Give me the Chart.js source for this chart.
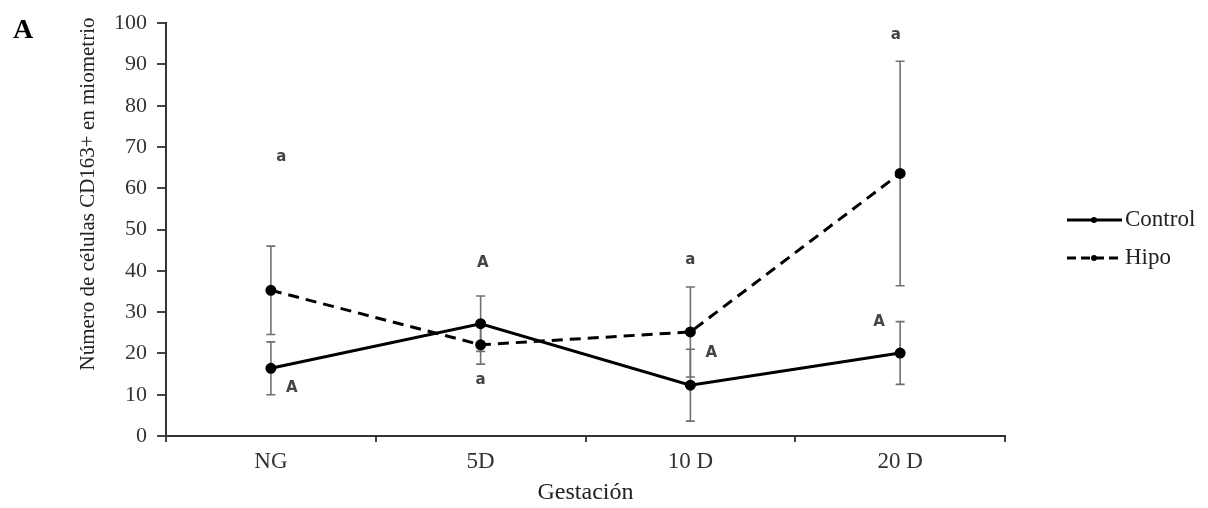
<!DOCTYPE html>
<html>
<head>
<meta charset="utf-8">
<script src="https://cdn.jsdelivr.net/npm/chart.js@4.4.1/dist/chart.umd.min.js"></script>
<style>
  html, body { margin: 0; padding: 0; background: #fff; }
</style>
</head>
<body>
<canvas id="chart" width="1208" height="508"></canvas>
<script>
// Datos
const categories = ['NG', '5D', '10 D', '20 D'];
const controlValues = [16.4, 27.2, 12.3, 20.1];
const controlErrors = [6.4, 6.7, 8.7, 7.6];
const hipoValues = [35.3, 22.1, 25.2, 63.6];
const hipoErrors = [10.7, 4.7, 10.9, 27.2];
const controlLetters = ['A', 'A', 'A', 'A'];
const hipoLetters = ['a', 'a', 'a', 'a'];
const yTicks = [0, 10, 20, 30, 40, 50, 60, 70, 80, 90, 100];

// ubicación de las letras (índice de categoría + desplazamiento, valor y)
const controlLetterPos = [[0.1, 11.6], [0.01, 41.8], [0.1, 20.0], [-0.1, 27.5]];
const hipoLetterPos = [[0.05, 67.5], [0, 13.5], [0, 42.6], [-0.02, 97.1]];

const serif = "'Liberation Serif', 'DejaVu Serif', serif";
const sans = "'DejaVu Sans', Verdana, sans-serif";

const extras = {
  id: 'extras',
  beforeDatasetsDraw(chart) {
    const { ctx, scales: { x, y } } = chart;
    ctx.save();
    ctx.strokeStyle = '#707070';
    ctx.lineWidth = 1.6;
    const bars = (vals, errs) => {
      vals.forEach((v, i) => {
        const px = x.getPixelForValue(i);
        const top = y.getPixelForValue(v + errs[i]);
        const bot = y.getPixelForValue(v - errs[i]);
        ctx.beginPath();
        ctx.moveTo(px, top); ctx.lineTo(px, bot);
        ctx.moveTo(px - 4.5, top); ctx.lineTo(px + 4.5, top);
        ctx.moveTo(px - 4.5, bot); ctx.lineTo(px + 4.5, bot);
        ctx.stroke();
      });
    };
    bars(controlValues, controlErrors);
    bars(hipoValues, hipoErrors);
    ctx.restore();
  },
  afterDraw(chart) {
    const { ctx, scales: { x, y } } = chart;
    const step = x.getPixelForValue(1) - x.getPixelForValue(0);
    ctx.save();
    // letras de significancia
    ctx.fillStyle = '#444';
    ctx.font = 'bold 15px ' + sans;
    ctx.textAlign = 'center';
    ctx.textBaseline = 'middle';
    const letters = (labels, pos) => {
      labels.forEach((t, i) => {
        ctx.fillText(t, x.getPixelForValue(i) + pos[i][0] * step, y.getPixelForValue(pos[i][1]));
      });
    };
    letters(controlLetters, controlLetterPos);
    letters(hipoLetters, hipoLetterPos);

    // título eje y
    ctx.fillStyle = '#222';
    ctx.font = '21px ' + serif;
    ctx.save();
    ctx.translate(88, 194);
    ctx.rotate(-Math.PI / 2);
    ctx.fillText('Número de células CD163+ en miometrio', 0, 0);
    ctx.restore();

    // letra del panel
    ctx.fillStyle = '#000';
    ctx.font = 'bold 28px ' + serif;
    ctx.fillText('A', 23, 31);

    // leyenda
    ctx.textAlign = 'left';
    ctx.font = '23px ' + serif;
    chart.data.datasets.forEach((ds, i) => {
      const ly = 220 + i * 38;
      ctx.strokeStyle = '#000';
      ctx.lineWidth = 3;
      ctx.setLineDash(ds.borderDash ? [9, 5] : []);
      ctx.beginPath();
      ctx.moveTo(1067, ly); ctx.lineTo(1122, ly);
      ctx.stroke();
      ctx.setLineDash([]);
      ctx.fillStyle = '#000';
      ctx.beginPath();
      ctx.arc(1094, ly, 3, 0, Math.PI * 2);
      ctx.fill();
      ctx.fillStyle = '#222';
      ctx.fillText(ds.label, 1125, ly);
    });
    ctx.restore();
  }
};

new Chart(document.getElementById('chart'), {
  type: 'line',
  data: {
    labels: categories,
    datasets: [
      { label: 'Control', data: controlValues, borderColor: '#000', backgroundColor: '#000',
        borderWidth: 3, pointRadius: 4, pointBackgroundColor: '#000', tension: 0 },
      { label: 'Hipo', data: hipoValues, borderColor: '#000', backgroundColor: '#000',
        borderWidth: 3, borderDash: [11, 7], pointRadius: 4, pointBackgroundColor: '#000', tension: 0 }
    ]
  },
  options: {
    responsive: false,
    animation: false,
    layout: { padding: { top: 23, right: 203, left: 0, bottom: 0 } },
    plugins: { legend: { display: false }, tooltip: { enabled: false } },
    scales: {
      x: {
        offset: true,
        afterFit: s => { s.height = 72; },
        grid: { display: true, drawOnChartArea: false, offset: true, tickLength: 6, color: '#444', lineWidth: 2 },
        border: { color: '#333', width: 2 },
        ticks: { font: { family: serif, size: 23 }, color: '#333', padding: 6 },
        title: { display: true, text: 'Gestación', font: { family: serif, size: 24 }, color: '#222', padding: { top: 0, bottom: 1 } }
      },
      y: {
        min: 0, max: 100,
        afterFit: s => { s.width = 166; },
        afterBuildTicks: s => { s.ticks = yTicks.map(v => ({ value: v })); },
        grid: { display: true, drawOnChartArea: false, tickLength: 9, color: '#444', lineWidth: 2 },
        border: { color: '#333', width: 2 },
        ticks: { font: { family: serif, size: 22 }, color: '#333', padding: 10 }
      }
    }
  },
  plugins: [extras]
});
</script>
</body>
</html>
